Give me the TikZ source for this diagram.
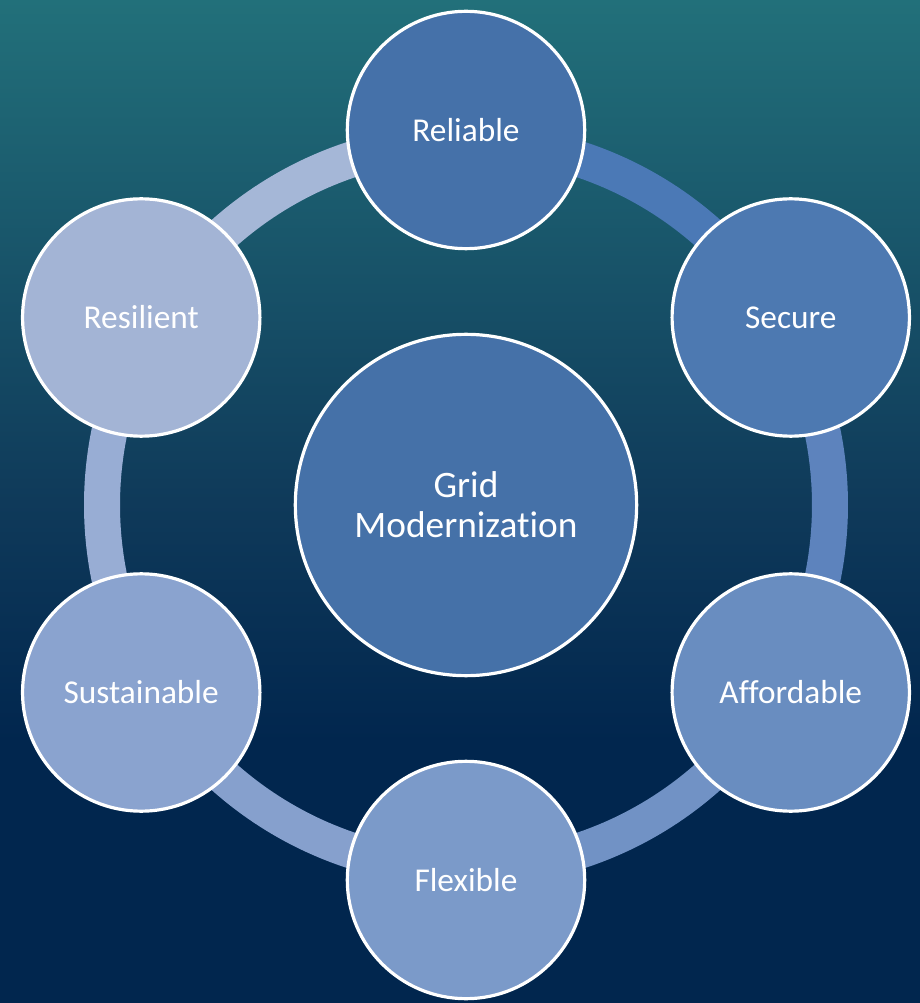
\documentclass[tikz,border=0pt]{standalone}
\usepackage{fontspec}
\setmainfont{Carlito}[Ligatures=NoCommon]

\definecolor{bgtop}{HTML}{22707A}
\definecolor{bgmid}{HTML}{0F3A5A}
\definecolor{bgbot}{HTML}{01264E}
\definecolor{hubblue}{HTML}{4571A8}
\definecolor{reliablecol}{HTML}{4571A9}
\definecolor{securecol}{HTML}{4D79B1}
\definecolor{affordablecol}{HTML}{698DC0}
\definecolor{flexiblecol}{HTML}{7B9AC9}
\definecolor{sustainablecol}{HTML}{8AA3CF}
\definecolor{resilientcol}{HTML}{A3B4D5}
\definecolor{arcA}{HTML}{4B79B6}
\definecolor{arcB}{HTML}{5D83BD}
\definecolor{arcC}{HTML}{7192C5}
\definecolor{arcD}{HTML}{86A0CD}
\definecolor{arcE}{HTML}{98ADD4}
\definecolor{arcF}{HTML}{A5B7D7}

\pgfdeclareverticalshading{bgfade}{100bp}{%
    color(0bp)=(bgbot); color(38bp)=(bgbot); color(50bp)=(bgmid);
    color(75bp)=(bgtop); color(100bp)=(bgtop)}

\begin{document}
\begin{tikzpicture}[%
        x=0.75pt, y=0.75pt,
        bubble/.style={shape=circle, draw=white, line width=2.4pt, text=white,
            inner sep=0pt, minimum size=178pt, font=\fontsize{25}{29}\selectfont},
        hub/.style={bubble, minimum size=256pt, align=center,
            font=\fontsize{28}{30}\selectfont},
        band/.style={line width=27pt}
    ]
        \useasboundingbox (-466,-498) rectangle (454,505);
        \shade [shading=bgfade] (-466,-498) rectangle (454,505);

        \node [hub, fill=hubblue] (grid) at (0,0) {Grid\\Modernization};

        % ring pieces between the outer circles
        \foreach \a/\b/\col in
            {90/30/arcA,30/-30/arcB,-30/-90/arcC,-90/-150/arcD,-150/-210/arcE,150/90/arcF}
            \draw [band, draw=\col] (grid.center) ++(\a:364)
                arc [start angle=\a, end angle=\b, radius=364];

        \foreach \n/\ang/\col in
            {Reliable/90/reliablecol,Secure/30/securecol,Affordable/-30/affordablecol,
             Flexible/-90/flexiblecol,Sustainable/-150/sustainablecol,Resilient/150/resilientcol}
            \node [bubble, fill=\col] (\n) at (\ang:375) {\n};
    \end{tikzpicture}
\end{document}
